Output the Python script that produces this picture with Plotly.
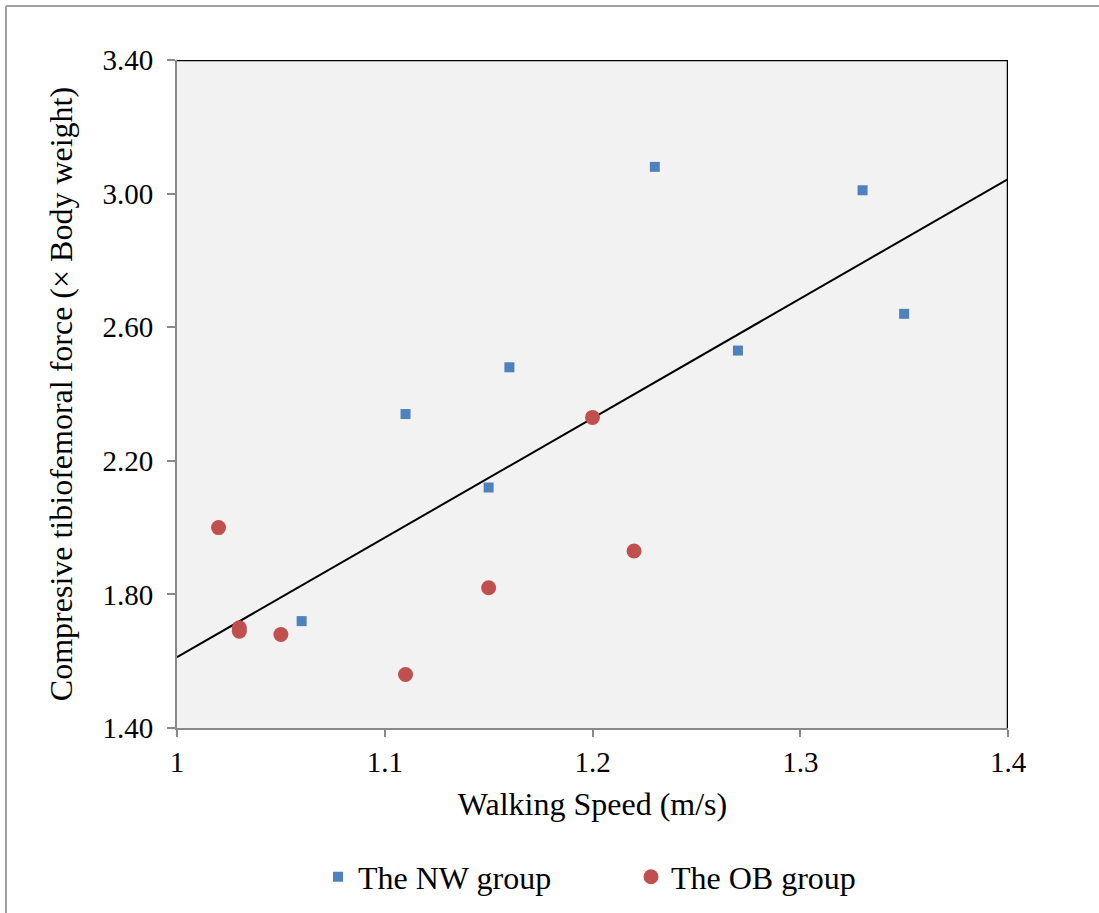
import numpy as np
import plotly.graph_objects as go

# Data
nw_speed = [1.06, 1.11, 1.15, 1.16, 1.23, 1.27, 1.33, 1.35]
nw_force = [1.72, 2.34, 2.12, 2.48, 3.08, 2.53, 3.01, 2.64]
ob_speed = [1.02, 1.03, 1.03, 1.05, 1.11, 1.15, 1.20, 1.22]
ob_force = [2.00, 1.70, 1.69, 1.68, 1.56, 1.82, 2.33, 1.93]
x_ticks = [1, 1.1, 1.2, 1.3, 1.4]
y_ticks = [1.40, 1.80, 2.20, 2.60, 3.00, 3.40]

all_x = np.array(nw_speed + ob_speed)
all_y = np.array(nw_force + ob_force)
slope, intercept = np.polyfit(all_x, all_y, 1)
line_x = [1.0, 1.4]
line_y = [intercept + slope * v for v in line_x]

FONT = "Liberation Serif, Times New Roman, serif"
FTICK = dict(family=FONT, size=29, color="black")
FTITLE = dict(family=FONT, size=32, color="black")
fig = go.Figure()
fig.add_trace(go.Scatter(x=line_x, y=line_y, mode="lines",
                         line=dict(color="black", width=2), showlegend=False,
                         hoverinfo="skip"))
fig.add_trace(go.Scatter(x=nw_speed, y=nw_force, mode="markers", name="The NW group",
                         marker=dict(symbol="square", size=10, color="#4F81BD",
                                     line=dict(width=0))))
fig.add_trace(go.Scatter(x=ob_speed, y=ob_force, mode="markers", name="The OB group",
                         marker=dict(symbol="circle", size=15, color="#C0504D",
                                     line=dict(width=0))))

fig.update_layout(
    width=1099, height=913,
    margin=dict(l=177, r=91, t=60, b=185, autoexpand=False),
    paper_bgcolor="white", plot_bgcolor="#F2F2F2",
    font=FTICK,
    showlegend=True,
    legend=dict(orientation="h", x=(318 - 177) / 831, xanchor="left", y=-0.223,
                yanchor="middle",
                entrywidth=268, entrywidthmode="pixels", itemsizing="trace",
                font=FTITLE, bgcolor="rgba(0,0,0,0)"),
    xaxis=dict(range=[1, 1.4], tickvals=x_ticks, ticktext=[str(v) for v in x_ticks],
               showgrid=False, zeroline=False, showline=True, linecolor="#898989",
               linewidth=2, ticks="outside", ticklen=7, tickcolor="#898989", tickwidth=2,
               automargin=False,
               title=dict(text="Walking Speed (m/s)", standoff=16, font=FTITLE),
               tickfont=FTICK),
    yaxis=dict(range=[1.4, 3.4], tickvals=y_ticks, ticktext=[f"{v:.2f}" for v in y_ticks],
               showgrid=False, zeroline=False, showline=True, linecolor="#898989",
               linewidth=2, ticks="outside", ticklen=8, tickcolor="#898989", tickwidth=2,
               ticklabelstandoff=8, automargin=False,
               title=dict(text="Compresive tibiofemoral force (× Body weight)", standoff=20,
                          font=FTITLE),
               tickfont=FTICK),
    shapes=[
        dict(type="line", xref="x", yref="y", x0=1, x1=1.4, y0=3.4, y1=3.4,
             line=dict(color="black", width=2.5)),
        dict(type="line", xref="x", yref="y", x0=1.4, x1=1.4, y0=1.4, y1=3.4,
             line=dict(color="black", width=2.5)),
        dict(type="line", xref="paper", yref="paper", x0=-171/831, x1=1.2,
             y0=(913 - 185 - 6) / 668, y1=(913 - 185 - 6) / 668,
             line=dict(color="#A0A0A0", width=2)),
        dict(type="line", xref="paper", yref="paper", x0=-171/831, x1=-171/831,
             y0=-0.4, y1=(913 - 185 - 6) / 668,
             line=dict(color="#A0A0A0", width=2)),
    ],
)

fig.write_html("out.html")
